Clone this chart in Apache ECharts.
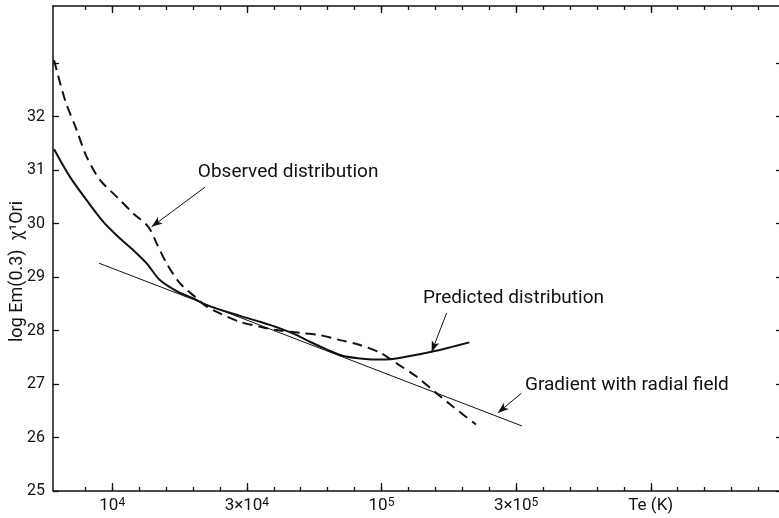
<!DOCTYPE html>
<html><head><meta charset="utf-8">
<script src="https://cdn.jsdelivr.net/npm/echarts@6/dist/echarts.min.js"></script>
<style>html,body{margin:0;padding:0;background:#fff}#c{width:779px;height:518px}</style>
</head><body><div id="c"></div>
<script>
// x values are log10(Te / K)
const obsX = [3.784, 3.825, 3.868, 3.905, 3.955, 4.017, 4.078, 4.134, 4.165, 4.202, 4.252, 4.314, 4.351, 4.400, 4.474, 4.549, 4.611, 4.697, 4.771, 4.846, 4.920, 4.994, 5.056, 5.131, 5.205, 5.266, 5.351];
const obsY = [33.056, 32.308, 31.748, 31.249, 30.813, 30.501, 30.191, 29.940, 29.630, 29.256, 28.882, 28.602, 28.449, 28.321, 28.164, 28.071, 28.009, 27.959, 27.916, 27.822, 27.729, 27.589, 27.387, 27.136, 26.826, 26.576, 26.243];
const predX = [3.784, 3.843, 3.905, 3.967, 4.029, 4.078, 4.128, 4.177, 4.239, 4.301, 4.351, 4.474, 4.549, 4.623, 4.685, 4.734, 4.796, 4.858, 4.920, 4.994, 5.031, 5.106, 5.186, 5.254, 5.326];
const predY = [31.393, 30.875, 30.439, 30.034, 29.723, 29.505, 29.256, 28.944, 28.738, 28.602, 28.477, 28.275, 28.164, 28.041, 27.916, 27.791, 27.649, 27.523, 27.480, 27.458, 27.462, 27.523, 27.604, 27.686, 27.779];
const gradX = [3.951, 5.522];
const gradY = [29.26, 26.215];

const xMinorTicks = [3.9, 4.0, 4.1, 4.2, 4.3, 4.4, 4.5, 4.6, 4.7, 4.8, 4.9, 5.0, 5.1, 5.2, 5.3, 5.4, 5.5, 5.6, 5.7, 5.8, 5.9, 6.0, 6.1, 6.2, 6.3, 6.4];
const xMajorTicks = [4.0, 4.5, 5.0, 5.5, 6.0];
const xLabelVals = [4.0, 4.5, 5.0, 5.5, 6.0];
const xLabelTexts = ['10{s|4}', '3×10{s|4}', '10{s|5}', '3×10{s|5}', 'Te (K)'];
const yTicks = [25, 26, 27, 28, 29, 30, 31, 32, 33];
const yLabelVals = [25, 26, 27, 28, 29, 30, 31, 32];
const noteTexts = ['Observed distribution', 'Predicted distribution', 'Gradient with radial field'];
const yName = 'log Em(0.3)  χ¹Ori';

const FONT = 'Roboto';
const INK = '#111';
const zip = (a, b) => a.map((v, i) => [v, b[i]]);

const xBase = {
  type: 'value', min: 3.78, max: 6.48, gridIndex: 0,
  splitLine: { show: false }
};
const xLabelMap = {};
xLabelVals.forEach((v, i) => { xLabelMap[v.toFixed(2)] = xLabelTexts[i]; });

const chart = echarts.init(document.getElementById('c'), null, { renderer: 'canvas' });
chart.setOption({
  animation: false,
  backgroundColor: '#fff',
  grid: { left: 53, top: 6, width: 727, height: 485, containLabel: false, outerBoundsMode: 'none' },
  xAxis: [
    Object.assign({}, xBase, {
      position: 'bottom',
      axisLine: { show: true, lineStyle: { color: INK, width: 1.5 } },
      axisTick: { show: true, inside: true, length: 4, customValues: xMinorTicks, lineStyle: { color: INK, width: 1.3 } },
      axisLabel: {
        show: true, customValues: xLabelVals, margin: 6,
        formatter: v => xLabelMap[Number(v).toFixed(2)] || '',
        color: INK, fontFamily: FONT, fontSize: 17,
        rich: { s: { fontSize: 12, verticalAlign: 'top', lineHeight: 10, fontFamily: FONT, color: INK } }
      }
    }),
    Object.assign({}, xBase, {
      position: 'bottom',
      axisLine: { show: false },
      axisTick: { show: true, inside: true, length: 8, customValues: xMajorTicks, lineStyle: { color: INK, width: 1.3 } },
      axisLabel: { show: false }
    }),
    Object.assign({}, xBase, {
      position: 'top',
      axisLine: { show: true, lineStyle: { color: INK, width: 1.5 } },
      axisTick: { show: true, inside: true, length: 4, customValues: xMinorTicks, lineStyle: { color: INK, width: 1.3 } },
      axisLabel: { show: false }
    }),
    Object.assign({}, xBase, {
      position: 'top',
      axisLine: { show: false },
      axisTick: { show: true, inside: true, length: 7, customValues: xMajorTicks, lineStyle: { color: INK, width: 1.3 } },
      axisLabel: { show: false }
    })
  ],
  yAxis: [
    {
      type: 'value', min: 25, max: 34.07, position: 'left',
      splitLine: { show: false },
      axisLine: { show: true, lineStyle: { color: INK, width: 1.5 } },
      axisTick: { show: true, inside: true, length: 6, customValues: yTicks, lineStyle: { color: INK, width: 1.3 } },
      axisLabel: { show: true, customValues: yLabelVals, margin: 8, color: INK, fontFamily: FONT, fontSize: 16 },
      name: yName, nameLocation: 'middle', nameGap: 27, nameRotate: 90, nameMoveOverlap: false,
      nameTextStyle: { color: INK, fontFamily: FONT, fontSize: 18, padding: [0, 46, 0, 0] }
    },
    {
      type: 'value', min: 25, max: 34.07, position: 'right',
      splitLine: { show: false },
      axisLine: { show: false },
      axisTick: { show: true, inside: true, length: 4, customValues: yTicks, lineStyle: { color: INK, width: 1.3 } },
      axisLabel: { show: false }
    }
  ],
  series: [
    {
      name: 'Observed', type: 'line', xAxisIndex: 0, yAxisIndex: 0,
      data: zip(obsX, obsY), smooth: 0.3, showSymbol: false,
      lineStyle: { color: INK, width: 2, type: [10, 6] }
    },
    {
      name: 'Predicted', type: 'line', xAxisIndex: 0, yAxisIndex: 0,
      data: zip(predX, predY), smooth: 0.3, showSymbol: false,
      lineStyle: { color: INK, width: 2 }
    },
    {
      name: 'Gradient', type: 'line', xAxisIndex: 0, yAxisIndex: 0,
      data: zip(gradX, gradY), showSymbol: false,
      lineStyle: { color: INK, width: 1 },
      markLine: {
        silent: true, symbol: ['none', 'arrow'], symbolSize: [6, 11],
        label: { show: false },
        lineStyle: { color: INK, width: 1, type: 'solid' },
        data: [
          [{ coord: [4.344, 30.68] }, { coord: [4.146, 29.94] }],
          [{ coord: [5.242, 28.33] }, { coord: [5.186, 27.60] }],
          [{ coord: [5.520, 26.83] }, { coord: [5.432, 26.46] }]
        ]
      },
      markPoint: {
        silent: true, symbol: 'circle', symbolSize: 0,
        label: { show: true, position: 'right', distance: 0, color: INK, fontFamily: FONT, fontSize: 19 },
        data: [
          { coord: [4.318, 30.97], label: { formatter: noteTexts[0] } },
          { coord: [5.154, 28.61], label: { formatter: noteTexts[1] } },
          { coord: [5.533, 26.98], label: { formatter: noteTexts[2] } }
        ]
      }
    }
  ]
});
</script>
</body></html>
